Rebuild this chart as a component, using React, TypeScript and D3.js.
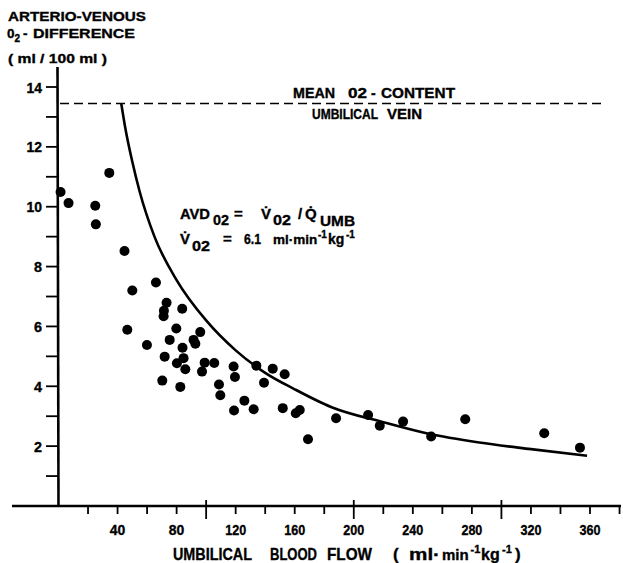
import React from 'react';
import * as d3 from 'd3';

// umbilical blood flow (ml/min/kg) and arterio-venous O2 difference (ml/100 ml)
const FLOW = [1.4, 6.8, 24.9, 25.3, 34.4, 44.7, 50, 46.6, 66, 73.2, 71.4, 71.2, 83.8, 79.8, 75.3, 59.9,
  91.5, 92.7, 96, 84, 71.9, 84.7, 80.2, 85.9, 99, 105.5, 97.2, 118.6, 119.5, 70.3, 82.5, 108.7, 109.6,
  118.9, 125.9, 132.2, 134, 145.1, 139.2, 153.2, 151.9, 160.7, 163.4, 169, 188, 209.7, 217.6, 233.4,
  252.4, 275.5, 329, 353.2];
const AVD = [10.49, 10.12, 10.03, 9.41, 11.13, 8.52, 7.2, 5.89, 7.47, 6.79, 6.52, 6.34, 6.59, 5.93, 5.55, 5.38,
  5.55, 5.42, 5.81, 5.29, 4.99, 4.94, 4.77, 4.57, 4.79, 4.78, 4.49, 4.66, 4.31, 4.19, 3.98, 4.06, 3.7,
  3.19, 3.52, 3.23, 4.69, 4.59, 4.12, 4.4, 3.27, 3.1, 3.21, 2.23, 2.93, 3.04, 2.68, 2.82,
  2.32, 2.9, 2.43, 1.95];

// the drawn hyperbola AVD = VO2 / Q
const CURVE_FLOW = [42.5, 45, 50, 55, 65, 80, 100, 120, 140, 160, 185, 220, 250, 285, 320, 358];
const CURVE_AVD = [13.45, 12.7, 11.5, 10.5, 9.0, 7.55, 6.2, 5.2, 4.45, 3.9, 3.3, 2.8, 2.42, 2.12, 1.9, 1.68];

const MEAN_VEIN_O2 = 13.45;
const X_LABELS = [40, 80, 120, 160, 200, 240, 280, 320, 360];
const X_MINOR = [20, 40, 60, 80, 100, 120, 140, 160, 180, 200, 220, 240, 260, 280, 300, 320, 340, 360, 380];
const X_MAJOR = [100, 200, 300];
const Y_LABELS = [2, 4, 6, 8, 10, 12, 14];
const Y_MINOR = [1, 2, 3, 4, 5, 6, 7, 8, 9, 10, 11, 12, 13, 14];

const W = 623;
const H = 563;
const FONT = "'Liberation Sans', Arial, sans-serif";

// the lettering on the original is narrow and tall
const numWidth = (v: number) => String(v).length === 1 ? 8 : String(v).length === 2 ? 15.5 : 21;

const App = () => {
  const x = d3.scaleLinear().domain([0, 360]).range([58.5, 590]);
  const y = d3.scaleLinear().domain([0, 14]).range([506, 87]);

  const curve = d3.line<number>()
    .x((d, i) => x(CURVE_FLOW[i]))
    .y(d => y(d))
    .curve(d3.curveMonotoneX);

  const sq = { lengthAdjust: 'spacingAndGlyphs' } as any;

  return (
    <svg width={W} height={H} style={{ position: 'absolute', left: 0, top: 0, background: '#fff' }}
      fontFamily={FONT} fontWeight="bold" fill="#000" stroke="#000" strokeWidth={0.35}>
      {/* axis titles */}
      <text x={8} y={21} fontSize={13.5} textLength={138} {...sq}>ARTERIO-VENOUS</text>
      <text x={7} y={38} fontSize={13.5}>
        0<tspan dy={4} fontSize={10}>2</tspan>
        <tspan dy={-4} x={23}>-</tspan>
        <tspan x={33} textLength={102} {...sq}>DIFFERENCE</tspan>
      </text>
      <text x={8} y={63} fontSize={13.5} textLength={99} {...sq}>( ml / 100 ml )</text>

      {/* axes */}
      <g strokeWidth={2.6} fill="none">
        <line x1={57.5} x2={58.5} y1={67} y2={507} />
        <line x1={12} x2={621} y1={506} y2={506} />
      </g>
      {Y_MINOR.map(v => (
        <line key={'yt' + v} x1={46} x2={58} y1={y(v)} y2={y(v)} strokeWidth={1.8} />
      ))}
      {Y_LABELS.map(v => (
        <text key={'yl' + v} x={42} y={y(v) + 5.5} fontSize={15} textAnchor="end"
          textLength={numWidth(v)} {...sq}>{v}</text>
      ))}
      {X_MINOR.map(v => (
        <line key={'xt' + v} x1={x(v)} x2={x(v)}
          y1={X_MAJOR.includes(v) ? 500 : 506} y2={X_MAJOR.includes(v) ? 519 : 514}
          strokeWidth={1.8} />
      ))}
      {X_LABELS.map(v => (
        <text key={'xl' + v} x={x(v) - numWidth(v) / 2} y={535} fontSize={15}
          textLength={numWidth(v)} {...sq}>{v}</text>
      ))}
      <text y={560} fontSize={17}>
        <tspan x={173} textLength={79} {...sq}>UMBILICAL</tspan>
        <tspan x={270} textLength={47} {...sq}>BLOOD</tspan>
        <tspan x={327} textLength={45} {...sq}>FLOW</tspan>
        <tspan x={393}>(</tspan>
        <tspan x={409} textLength={31} {...sq}>ml·</tspan>
      </text>
      <text x={442} y={560} fontSize={15}>min</text>
      <text x={470.5} y={553} fontSize={11}>-1</text>
      <text x={481} y={560} fontSize={16}>kg</text>
      <text x={502} y={553} fontSize={11}>-1</text>
      <text x={515} y={560} fontSize={17}>)</text>

      {/* umbilical vein reference */}
      <line x1={60} x2={606} y1={y(MEAN_VEIN_O2)} y2={y(MEAN_VEIN_O2)}
        strokeWidth={1.6} strokeDasharray="9 5" />
      <text y={98} fontSize={14}>
        <tspan x={293} textLength={42} {...sq}>MEAN</tspan>
        <tspan x={348} textLength={19} {...sq}>02</tspan>
        <tspan x={371}>-</tspan>
        <tspan x={381} textLength={74} {...sq}>CONTENT</tspan>
      </text>
      <text y={119} fontSize={14}>
        <tspan x={312} textLength={66} {...sq}>UMBILICAL</tspan>
        <tspan x={387} textLength={35} {...sq}>VEIN</tspan>
      </text>

      {/* fitted curve */}
      <path d={curve(CURVE_AVD) || ''} fill="none" strokeWidth={2.6} />

      {/* formula */}
      <text y={219} fontSize={15}>
        <tspan x={180} textLength={30} {...sq}>AVD</tspan>
        <tspan x={213} dy={6} textLength={16} {...sq}>02</tspan>
        <tspan x={234} dy={-6}>=</tspan>
        <tspan x={261}>V̇</tspan>
        <tspan x={273} dy={6} textLength={18} {...sq}>02</tspan>
        <tspan x={298} dy={-6}>/</tspan>
        <tspan x={305}>Q̇</tspan>
        <tspan x={320} dy={7} textLength={35} {...sq}>UMB</tspan>
      </text>
      <text y={244} fontSize={15}>
        <tspan x={180}>V̇</tspan>
        <tspan x={192} dy={7} textLength={18} {...sq}>02</tspan>
        <tspan x={223} dy={-7}>=</tspan>
        <tspan x={244} textLength={17} {...sq}>6.1</tspan>
      </text>
      <text x={273} y={244} fontSize={13.5}>ml·min</text>
      <text x={318} y={238} fontSize={10}>-1</text>
      <text x={328} y={244} fontSize={14}>kg</text>
      <text x={346} y={238} fontSize={10}>-1</text>

      {/* measurements */}
      {FLOW.map((f, i) => (
        <circle key={'p' + i} cx={x(f)} cy={y(AVD[i])} r={5} stroke="none" />
      ))}
    </svg>
  );
};

export default App;
